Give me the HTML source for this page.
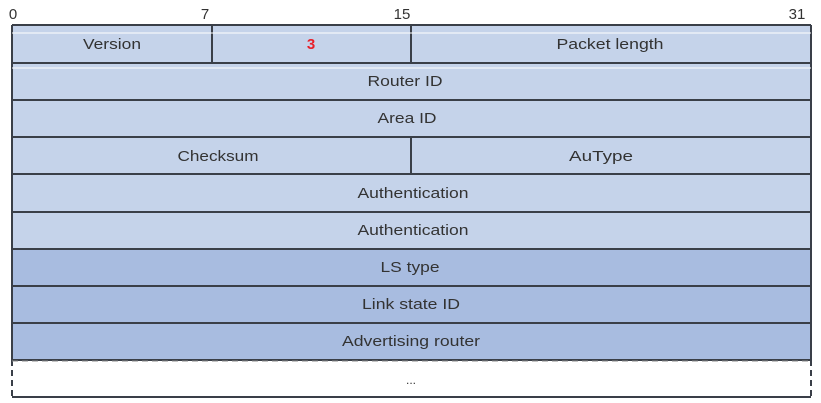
<!DOCTYPE html>
<html><head><meta charset="utf-8"><style>
html,body{margin:0;padding:0;background:#fff;width:821px;height:403px;overflow:hidden}
text{font-family:"Liberation Sans",sans-serif;font-size:15px;fill:#333}
</style></head><body>
<svg width="821" height="403" xmlns="http://www.w3.org/2000/svg">
<rect x="12" y="25" width="799" height="224" fill="#c5d3ea"/>
<rect x="12" y="249" width="799" height="111" fill="#a8bce0"/>
<g stroke="#3a3f48" stroke-width="2" fill="none">
<line x1="12" y1="25" x2="811" y2="25"/>
<line x1="12" y1="25" x2="12" y2="360"/>
<line x1="811" y1="25" x2="811" y2="360"/>
<line x1="12" y1="63" x2="811" y2="63"/>
<line x1="12" y1="100" x2="811" y2="100"/>
<line x1="12" y1="137" x2="811" y2="137"/>
<line x1="12" y1="174" x2="811" y2="174"/>
<line x1="12" y1="212" x2="811" y2="212"/>
<line x1="12" y1="249" x2="811" y2="249"/>
<line x1="12" y1="286" x2="811" y2="286"/>
<line x1="12" y1="323" x2="811" y2="323"/>
<line x1="12" y1="360" x2="811" y2="360"/>
<line x1="212" y1="25" x2="212" y2="63"/>
<line x1="411" y1="25" x2="411" y2="63"/>
<line x1="411" y1="137" x2="411" y2="174"/>
<line x1="12" y1="397" x2="811" y2="397"/>
<line x1="12" y1="360" x2="12" y2="397" stroke-dasharray="6,4"/>
<line x1="811" y1="360" x2="811" y2="397" stroke-dasharray="6,4"/>
</g>
<line x1="12" y1="361" x2="811" y2="361" stroke="#888" stroke-width="1" stroke-dasharray="6,4"/>
<line x1="12" y1="33" x2="811" y2="33" stroke="#fff" stroke-width="1"/>
<line x1="12" y1="68" x2="811" y2="68" stroke="#fff" stroke-width="1"/>
<g text-anchor="middle">
<text x="13" y="19">0</text>
<text x="205" y="19">7</text>
<text x="402" y="19">15</text>
<text x="797" y="19">31</text>
<text x="112" y="49" textLength="58" lengthAdjust="spacingAndGlyphs">Version</text>
<text x="311" y="49" style="fill:#e8202a;font-weight:bold">3</text>
<text x="610" y="49" textLength="107" lengthAdjust="spacingAndGlyphs">Packet length</text>
<text x="405" y="86" textLength="75" lengthAdjust="spacingAndGlyphs">Router ID</text>
<text x="407" y="123" textLength="59" lengthAdjust="spacingAndGlyphs">Area ID</text>
<text x="218" y="161" textLength="81" lengthAdjust="spacingAndGlyphs">Checksum</text>
<text x="601" y="161" textLength="64" lengthAdjust="spacingAndGlyphs">AuType</text>
<text x="413" y="198" textLength="111" lengthAdjust="spacingAndGlyphs">Authentication</text>
<text x="413" y="235" textLength="111" lengthAdjust="spacingAndGlyphs">Authentication</text>
<text x="410" y="272" textLength="59" lengthAdjust="spacingAndGlyphs">LS type</text>
<text x="411" y="309" textLength="98" lengthAdjust="spacingAndGlyphs">Link state ID</text>
<text x="411" y="346" textLength="138" lengthAdjust="spacingAndGlyphs">Advertising router</text>
<text x="411" y="384" style="font-size:12px">...</text>
</g>
</svg>
</body></html>
